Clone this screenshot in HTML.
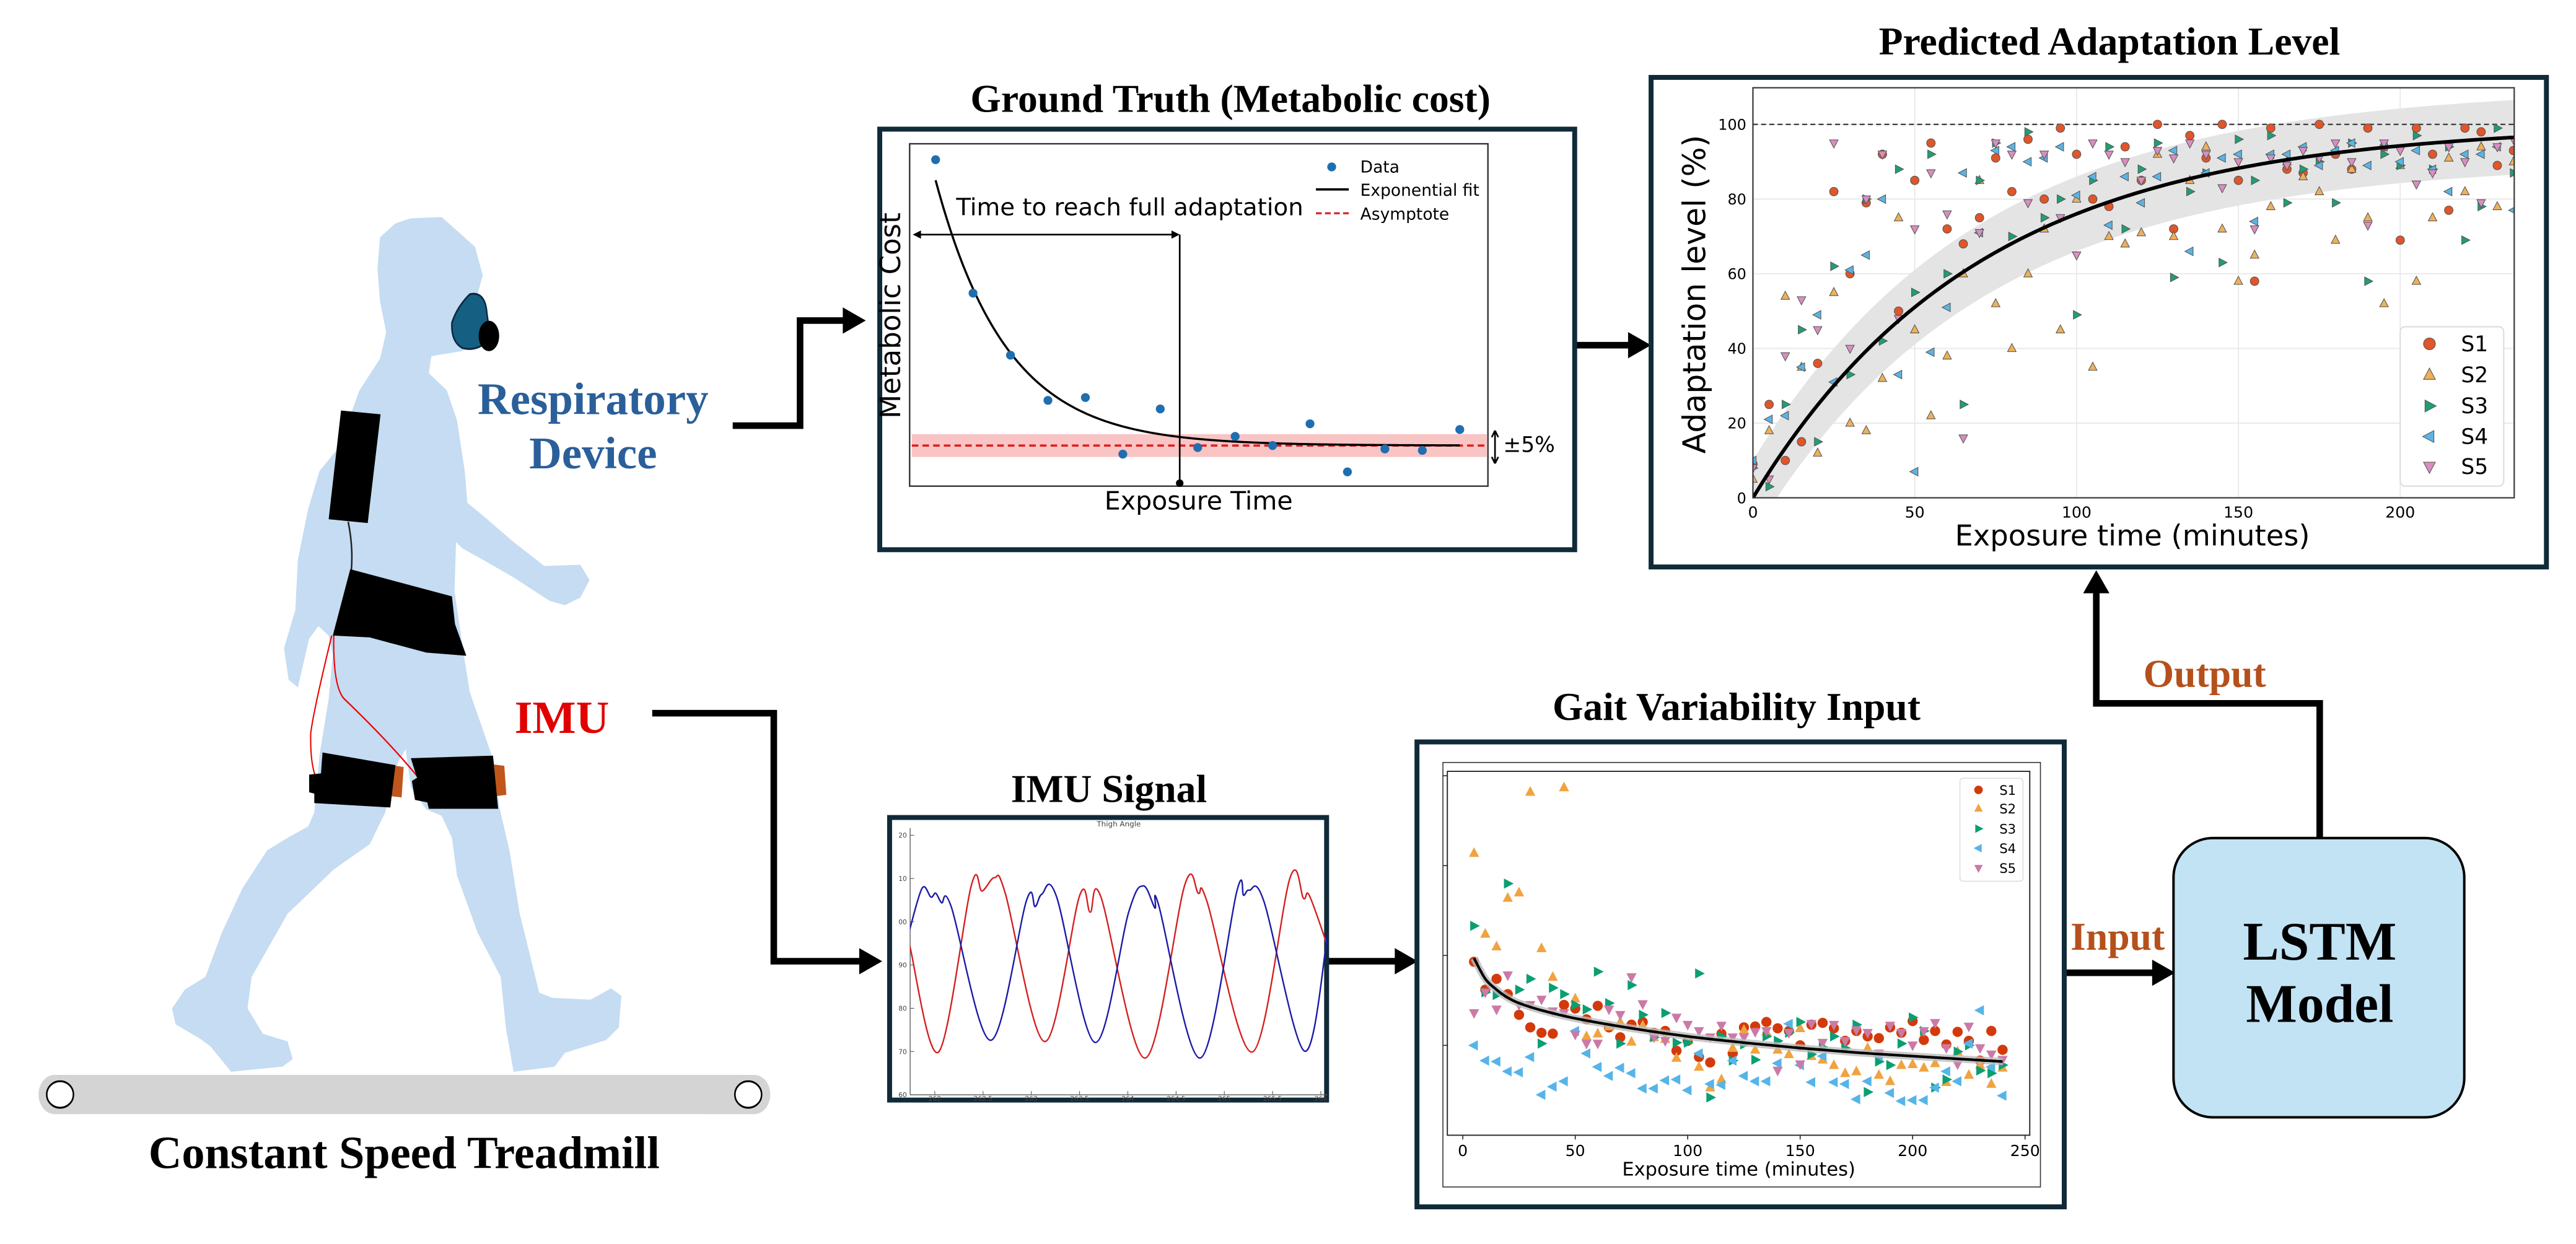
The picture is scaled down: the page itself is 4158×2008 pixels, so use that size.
<!DOCTYPE html>
<html><head><meta charset="utf-8"><style>
html,body{margin:0;padding:0;background:#fff;}
svg{display:block;}
.ser{font-family:"Liberation Serif",serif;font-weight:bold;}
.sans{font-family:"DejaVu Sans","Liberation Sans",sans-serif;}
</style></head><body>
<svg id="root" xmlns="http://www.w3.org/2000/svg" width="4158" height="2008" viewBox="0 0 1568 757">
<rect x="0" y="0" width="1568" height="757" fill="#fff"/>
<defs>
<clipPath id="clipPred"><rect x="1067" y="53.3" width="463.4" height="249.6"/></clipPath>
<clipPath id="clipGait"><rect x="881" y="469.4" width="354.5" height="221.5"/></clipPath>
<clipPath id="clipImu"><rect x="554" y="504" width="254" height="162"/></clipPath>
</defs>

<!-- person -->
<g transform="translate(0,94.3) scale(0.3126,0.3848)">
<polygon fill="#c5dcf2" points="800,100 860,98 925,145 940,190 930,220 950,260 900,310 840,318 835,345 870,372 890,420 905,500 910,550 940,570 1000,612 1060,650 1130,648 1148,672 1130,700 1100,712 1070,705 1000,668 940,640 900,622 888,612 885,690 905,800 915,850 945,920 962,960 972,1030 992,1100 1012,1200 1050,1325 1075,1333 1150,1336 1190,1318 1210,1330 1205,1380 1180,1400 1100,1420 1080,1442 1000,1450 985,1380 975,1300 930,1230 890,1140 880,1080 860,1045 830,1035 800,1000 790,940 775,960 750,1040 720,1090 650,1130 560,1200 490,1300 482,1350 512,1390 560,1402 570,1430 550,1442 450,1450 410,1410 390,1398 342,1375 335,1350 360,1320 400,1300 432,1230 472,1160 520,1100 560,1080 600,1062 612,1040 622,950 640,860 648,790 640,760 620,745 602,765 580,842 562,830 553,780 575,720 580,640 600,560 622,500 660,462 700,372 740,322 752,280 740,232 735,180 740,130 770,108"/>
<polygon fill="#000" points="664,404 741,410 716,582 640,576"/>
<path d="M678,580 Q688,620 684,658" stroke="#222" stroke-width="3" fill="none"/>
<polygon fill="#000" points="682,655 880,698 886,742 908,792 830,787 720,763 648,760"/>
<path d="M646,760 Q610,880 605,915 Q604,960 614,982" stroke="#e00" stroke-width="2.5" fill="none"/>
<path d="M650,760 Q648,840 670,860 Q760,930 818,988" stroke="#e00" stroke-width="2.5" fill="none"/>
<polygon fill="#c0561c" points="762,965 786,968 782,1016 760,1014"/>
<polygon fill="#c0561c" points="962,964 982,966 986,1012 966,1014"/>
<polygon fill="#000" points="628,945 770,965 760,1032 612,1025 612,1010 602,1008 602,980 625,978"/>
<polygon fill="#000" points="800,954 960,950 970,1034 835,1034 832,1024 808,1020 802,990 812,985"/>
<path d="M915,220 Q945,215 948,250 L955,290 Q930,312 900,305 Q878,295 880,265 Q890,240 915,220 Z" fill="#155f82" stroke="#0a2a40" stroke-width="3"/>
<ellipse cx="952" cy="286" rx="20" ry="24" fill="#000"/>
<rect x="75" y="1455" width="1425" height="62" rx="31" fill="#d4d4d4"/>
<ellipse cx="117" cy="1486" rx="26" ry="21" fill="#fff" stroke="#000" stroke-width="3"/>
<ellipse cx="1457" cy="1486" rx="26" ry="21" fill="#fff" stroke="#000" stroke-width="3"/>
</g>
<text class="ser" x="246" y="711" font-size="28" text-anchor="middle" fill="#000">Constant Speed Treadmill</text>
<text class="ser" x="361" y="252" font-size="27.5" text-anchor="middle" fill="#2a5f9a">Respiratory</text>
<text class="ser" x="361" y="285" font-size="27.5" text-anchor="middle" fill="#2a5f9a">Device</text>
<text class="ser" x="342" y="446" font-size="28" text-anchor="middle" fill="#e00000">IMU</text>

<!-- connectors -->
<g stroke="#000" stroke-width="4" fill="none">
<polyline points="446,259 487,259 487,195 516,195"/>
<polyline points="397,434 471,434 471,585 526,585"/>
<line x1="958" y1="210" x2="994" y2="210"/>
<line x1="808" y1="585" x2="852" y2="585"/>
<line x1="1257" y1="592" x2="1313" y2="592"/>
<polyline points="1412,510 1412,428 1276,428 1276,358"/>
</g>
<g fill="#000">
<polygon points="527,195 513,187 513,203"/>
<polygon points="537,585 523,577 523,593"/>
<polygon points="1005,210 991,202 991,218"/>
<polygon points="863,585 849,577 849,593"/>
<polygon points="1324,592 1310,584 1310,600"/>
<polygon points="1276,347 1268,361 1284,361"/>
</g>
<text class="ser" x="1289" y="578" font-size="24" text-anchor="middle" fill="#b5501c">Input</text>
<text class="ser" x="1342" y="418" font-size="24" text-anchor="middle" fill="#b5501c">Output</text>

<!-- LSTM -->
<rect x="1323" y="510" width="177" height="170" rx="24" fill="#c2e3f4" stroke="#000" stroke-width="1.5"/>
<text class="ser" x="1412" y="584" font-size="33" text-anchor="middle">LSTM</text>
<text class="ser" x="1412" y="622" font-size="33" text-anchor="middle">Model</text>

<!-- panel boxes and titles -->
<rect x="535.5" y="78.5" width="423" height="256" fill="#fff" stroke="#102a38" stroke-width="3"/>
<text class="ser" x="749" y="68" font-size="24" text-anchor="middle">Ground Truth (Metabolic cost)</text>
<rect x="1005" y="47" width="545" height="298" fill="#fff" stroke="#102a38" stroke-width="3"/>
<text class="ser" x="1284" y="33" font-size="24" text-anchor="middle">Predicted Adaptation Level</text>
<rect x="541.5" y="497.5" width="266" height="172" fill="#fff" stroke="#102a38" stroke-width="3"/>
<text class="ser" x="675" y="488" font-size="24" text-anchor="middle">IMU Signal</text>
<rect x="862.5" y="451.5" width="394" height="283" fill="#fff" stroke="#102a38" stroke-width="3"/>
<text class="ser" x="1057" y="438" font-size="24" text-anchor="middle">Gait Variability Input</text>

<g id="gt"></g>
<g id="pred"></g>
<g id="imu"></g>
<g id="gait"></g>
</svg>
<script>
// ---------- Ground truth data ----------
const gtIndex = [0,1,2,3,4,5,6,7,8,9,10,11,12,13,14];
const gtValues = [11.42,6.75,4.58,3.0,3.1,1.12,2.7,1.35,1.74,1.42,2.18,0.5,1.3,1.25,1.98];
const gtAsymptote = 1.42;
const gtBandHalf = 0.4;
const gtFitAmp = 9.28;
const gtFitRate = 1.9;
const gtAdaptIndex = 6.52;
const gtArrowLevel = 8.8;

// ---------- Predicted adaptation data ----------
const predTicksX = [0,50,100,150,200];
const predTicksY = [0,20,40,60,80,100];
const predTimes = [0,5,10,15,20,25,30,35,40,45,50,55,60,65,70,75,80,85,90,95,100,105,110,115,120,125,130,135,140,145,150,155,160,165,170,175,180,185,190,195,200,205,210,215,220,225,230,235];
const predS1 = [9,25,10,15,36,82,60,79,92,50,85,95,72,68,75,91,82,96,80,99,92,80,78,94,85,100,72,97,91,100,85,58,99,88,87,100,92,88,99,94,69,99,92,77,99,98,89,93];
const predS2 = [5,18,54,35,12,55,20,18,32,75,45,22,38,60,85,52,40,60,72,45,80,35,70,68,71,92,70,85,94,72,58,65,78,90,86,82,69,88,75,52,89,58,75,91,82,94,78,90];
const predS3 = [8,3,25,45,15,62,33,80,42,88,55,92,60,25,85,95,70,98,75,80,49,85,94,72,88,95,59,82,87,63,96,85,97,79,88,90,79,95,58,92,89,97,88,94,69,78,99,87];
const predS4 = [10,21,22,35,49,31,61,65,80,33,7,39,51,87,71,93,94,90,91,94,81,86,73,86,79,86,93,66,87,91,92,74,92,92,94,89,93,95,89,94,90,93,88,82,92,92,94,77];
const predS5 = [8,5,38,53,45,95,40,80,92,48,72,87,76,16,71,95,92,79,92,75,65,95,92,90,85,93,91,95,92,83,90,72,91,89,93,91,95,90,73,95,93,84,87,94,90,79,94,96];
const predSeriesNames = ["S1","S2","S3","S4","S5"];
const predFitTau = 70;
const predBandHalf = 10;

// ---------- IMU signal data ----------
const imuTicksX = [262,262.5,263,263.5,264,264.5,265,265.5,266];
const imuTickXLabels = ["262","262.5","263","263.5","264","264.5","265","265.5","266"];
const imuTicksY = [120,110,100,90,80,70,60];
const imuTickYLabels = ["20","10","00","90","80","70","60"];
const imuRedT = [261.74,262.04,262.38,262.49,262.62,262.73,263.14,263.50,263.61,263.72,264.18,264.59,264.73,264.82,265.29,265.68,265.82,265.88,266.06];
const imuRedV = [94.5,69.9,108.5,107.1,110.2,106.6,72.3,106,102.2,105.8,68.5,108.5,106.6,104.7,69.9,110.1,105.4,106.1,95];
const imuBlueT = [261.74,261.87,261.96,262.01,262.07,262.17,262.58,262.95,263.04,263.11,263.26,263.66,264.01,264.16,264.28,264.32,264.75,265.13,265.20,265.26,265.41,265.83,266.07];
const imuBlueV = [98.2,107.8,105.7,106.6,104.4,103.5,72.6,104.9,103.5,106.4,105.9,72.1,102.3,108.3,103.2,103.8,68.5,107.1,106.1,107.3,104.7,70.1,97];

// ---------- Gait variability data ----------
const gaitTicksX = [0,50,100,150,200,250];
const gaitTicksY = [1,2,3,4];
const gaitTimes = [5,10,15,20,25,30,35,40,45,50,55,60,65,70,75,80,85,90,95,100,105,110,115,120,125,130,135,140,145,150,155,160,165,170,175,180,185,190,195,200,205,210,215,220,225,230,235,240];
const gaitS1 = [1.93,1.62,1.74,1.57,1.34,1.2,1.14,1.13,1.45,1.41,1.29,1.44,1.2,1.09,1.23,1.26,1.14,1.16,0.94,1.05,0.87,0.81,1.13,0.91,1.2,1.21,1.26,1.19,1.16,1.0,1.23,1.25,1.19,1.05,1.16,1.1,1.08,1.2,1.14,1.27,1.06,1.16,1.01,1.15,1.05,0.83,1.16,0.95];
const gaitS2 = [3.14,2.24,2.1,2.64,2.7,3.82,2.08,1.76,3.87,1.52,1.1,1.13,1.21,1.26,1.04,1.22,1.09,1.07,0.86,1.05,0.76,0.53,0.62,0.97,1.17,0.95,1.15,0.95,0.9,1.19,0.88,0.84,0.78,0.69,0.71,0.97,0.67,0.6,0.78,0.79,0.75,0.8,0.59,0.93,0.67,0.78,0.57,0.75];
const gaitS3 = [2.33,1.59,1.56,2.8,1.62,1.74,1.02,1.64,1.57,1.45,1.4,1.82,1.47,1.02,1.67,1.34,1.09,1.36,1.03,1.03,1.8,0.42,1.1,0.83,1.01,0.84,1.1,1.05,1.14,1.26,0.9,0.98,1.1,0.97,1.23,0.48,0.82,0.78,1.02,1.31,1.16,0.53,0.62,0.93,1.0,0.72,0.69,0.78];
const gaitS4 = [1.0,0.83,0.82,0.71,0.7,0.87,0.45,0.54,0.6,1.16,0.91,0.76,0.66,0.75,0.69,0.52,0.52,0.61,0.62,0.5,0.91,0.57,0.56,0.83,0.66,0.6,0.6,0.8,1.24,0.78,0.59,0.88,0.59,0.57,0.4,0.6,0.88,0.47,0.38,0.39,0.39,0.53,0.71,0.6,1.02,1.39,0.76,0.44];
const gaitS5 = [1.36,1.59,1.4,1.78,1.45,1.45,1.51,1.38,1.36,1.12,1.02,1.02,1.4,1.34,1.76,1.46,1.09,1.05,1.31,1.23,1.16,1.09,1.22,1.09,1.09,1.15,1.16,0.72,1.14,0.79,1.24,1.03,1.23,1.05,1.17,1.14,0.91,1.22,1.14,1.0,1.16,1.25,0.97,0.79,1.21,0.97,0.9,0.84];
const gaitFitT = [5,10,15,20,25,35,50,75,100,125,150,175,200,220,240];
const gaitFitV = [1.97,1.74,1.62,1.53,1.47,1.39,1.3,1.19,1.1,1.03,0.97,0.92,0.88,0.85,0.82];
const gaitSeriesNames = ["S1","S2","S3","S4","S5"];

const NS = "http://www.w3.org/2000/svg";
function mk(tag, attrs, parent){
  const e = document.createElementNS(NS, tag);
  for (const k in attrs) e.setAttribute(k, attrs[k]);
  parent.appendChild(e);
  return e;
}
function smoothPath(pts){
  let d = "M"+pts[0][0].toFixed(2)+","+pts[0][1].toFixed(2);
  for (let i=0;i<pts.length-1;i++){
    const p0=pts[Math.max(0,i-1)],p1=pts[i],p2=pts[i+1],p3=pts[Math.min(pts.length-1,i+2)];
    const c1x=p1[0]+(p2[0]-p0[0])/6,c1y=p1[1]+(p2[1]-p0[1])/6;
    const c2x=p2[0]-(p3[0]-p1[0])/6,c2y=p2[1]-(p3[1]-p1[1])/6;
    d+=" C"+c1x.toFixed(2)+","+c1y.toFixed(2)+" "+c2x.toFixed(2)+","+c2y.toFixed(2)+" "+p2[0].toFixed(2)+","+p2[1].toFixed(2);
  }
  return d;
}
function marker(kind, cx, cy, r, fill, stroke, sw, parent){
  let e;
  if (kind===0){ e = mk("circle",{cx:cx,cy:cy,r:r,fill:fill,stroke:stroke,"stroke-width":sw},parent); }
  else {
    let p;
    if (kind===1) p=[[cx,cy-r*1.15],[cx-r,cy+r*0.75],[cx+r,cy+r*0.75]];
    else if (kind===2) p=[[cx+r*1.15,cy],[cx-r*0.75,cy-r],[cx-r*0.75,cy+r]];
    else if (kind===3) p=[[cx-r*1.15,cy],[cx+r*0.75,cy-r],[cx+r*0.75,cy+r]];
    else p=[[cx,cy+r*1.15],[cx-r,cy-r*0.75],[cx+r,cy-r*0.75]];
    e = mk("polygon",{points:p.map(q=>q[0].toFixed(2)+","+q[1].toFixed(2)).join(" "),fill:fill,stroke:stroke,"stroke-width":sw},parent);
  }
  return e;
}

// ================= Ground truth chart =================
(function(){
  const g = document.getElementById("gt");
  const X = i => 569.5 + i*22.79;
  const Y = v => 295.8 - v*17.4;
  let e;
  e = mk("rect",{x:553.7,y:87.4,width:352,height:208.4,fill:"#fff",stroke:"#333","stroke-width":0.9},g);
  
  
  e = mk("rect",{x:555,y:Y(gtAsymptote+gtBandHalf),width:350,height:Y(gtAsymptote-gtBandHalf)-Y(gtAsymptote+gtBandHalf),fill:"#f9c4c4"},g);
  
  
  e = mk("line",{x1:555,x2:905,y1:Y(gtAsymptote),y2:Y(gtAsymptote),stroke:"#e02020","stroke-width":1.4,"stroke-dasharray":"4,2.5"},g);
  
  
  const fp=[];
  for (let k=0;k<=140;k++){ const i=k/10; fp.push([X(i),Y(gtAsymptote+gtFitAmp*Math.exp(-i/gtFitRate))]); }
  e = mk("path",{d:smoothPath(fp),fill:"none",stroke:"#000","stroke-width":1.3},g);
  
  
  gtValues.forEach((v,i)=>{
    const c = mk("circle",{cx:X(gtIndex[i]),cy:Y(v),r:2.7,fill:"#1f6fb0"},g);
    
    
  });
  e = mk("line",{x1:X(gtAdaptIndex),x2:X(gtAdaptIndex),y1:Y(gtArrowLevel),y2:294,stroke:"#000","stroke-width":1},g);
  
  
  e = mk("circle",{cx:X(gtAdaptIndex),cy:294,r:2.3,fill:"#000"},g);
  
  
  const ax1 = X(-0.61), ax2 = X(gtAdaptIndex), ay = Y(gtArrowLevel);
  e = mk("line",{x1:ax1+2,x2:ax2-2,y1:ay,y2:ay,stroke:"#000","stroke-width":1},g);
  
  
  e = mk("path",{d:`M${ax1},${ay} l5,-2.5 l0,5 z M${ax2},${ay} l-5,-2.5 l0,5 z`,fill:"#000"},g);
  
  
  e = mk("text",{x:582,y:131,"font-size":14.6,class:"sans"},g);
  e.textContent="Time to reach full adaptation";
  
  
  e = mk("circle",{cx:810.6,cy:101.5,r:2.7,fill:"#1f6fb0"},g);
  
  
  e = mk("text",{x:828,y:105,"font-size":10,class:"sans"},g); e.textContent="Data";
  
  
  e = mk("line",{x1:801,x2:821,y1:115.2,y2:115.2,stroke:"#000","stroke-width":1.4},g);
  
  
  e = mk("text",{x:828,y:119,"font-size":10,class:"sans"},g); e.textContent="Exponential fit";
  
  
  e = mk("line",{x1:801,x2:821,y1:129.7,y2:129.7,stroke:"#e02020","stroke-width":1.2,"stroke-dasharray":"3.5,2"},g);
  
  
  e = mk("text",{x:828,y:133.5,"font-size":10,class:"sans"},g); e.textContent="Asymptote";
  
  
  e = mk("text",{x:0,y:0,"font-size":17,class:"sans","text-anchor":"middle",transform:"translate(548,192) rotate(-90)"},g);
  e.textContent="Metabolic Cost";
  
  
  e = mk("text",{x:729.6,y:310,"font-size":15.5,class:"sans","text-anchor":"middle"},g);
  e.textContent="Exposure Time";
  
  
  e = mk("path",{d:"M910,262 L910,282 M910,262 l-2,4 M910,262 l2,4 M910,282 l-2,-4 M910,282 l2,-4",stroke:"#000","stroke-width":1,fill:"none"},g);
  
  
  e = mk("text",{x:915,y:275,"font-size":13,class:"sans"},g);
  e.textContent="±5%";
  
  
})();

// ================= Predicted adaptation chart =================
(function(){
  const g = document.getElementById("pred");
  const X = t => 1067 + t*1.97;
  const Y = v => 302.9 - v*2.273;
  const colors = ["#e0552a","#eeb05a","#1f9e74","#5ab4e5","#d88ec0"];
  const series = [predS1,predS2,predS3,predS4,predS5];
  let e;
  e = mk("rect",{x:1067,y:53.3,width:463.4,height:249.6,fill:"#fff"},g);
  
  
  predTicksX.forEach(t=>{
    const l = mk("line",{x1:X(t),x2:X(t),y1:53.3,y2:302.9,stroke:"#e8e8e8","stroke-width":0.7},g);
    
    
    const tx = mk("text",{x:X(t),y:315,"font-size":9.5,class:"sans","text-anchor":"middle"},g);
    tx.textContent=String(t);
    
    
  });
  predTicksY.forEach(v=>{
    const l = mk("line",{x1:1067,x2:1530.4,y1:Y(v),y2:Y(v),stroke:"#e8e8e8","stroke-width":0.7},g);
    
    
    const tx = mk("text",{x:1063,y:Y(v)+3.3,"font-size":9,class:"sans","text-anchor":"end"},g);
    tx.textContent=String(v);
    
    
  });
  const gc = mk("g",{"clip-path":"url(#clipPred)"},g);
  
  
  const up=[],lo=[],mid=[];
  for (let t=0;t<=236;t+=2){
    const f=100*(1-Math.exp(-t/predFitTau));
    mid.push([X(t),Y(f)]); up.push([X(t),Y(f+predBandHalf)]); lo.push([X(t),Y(f-predBandHalf)]);
  }
  e = mk("path",{d:"M"+up.map(p=>p[0].toFixed(2)+","+p[1].toFixed(2)).join(" L")+" L"+lo.reverse().map(p=>p[0].toFixed(2)+","+p[1].toFixed(2)).join(" L")+" Z",fill:"#e4e4e4"},gc);
  
  
  e = mk("line",{x1:1067,x2:1530.4,y1:Y(100),y2:Y(100),stroke:"#444","stroke-width":0.9,"stroke-dasharray":"3,2"},gc);
  
  
  series.forEach((s,k)=>{
    s.forEach((v,i)=>{
      const m = marker(k, X(predTimes[i]), Y(v), 2.6, colors[k], "#555", 0.4, gc);
      
      
    });
  });
  e = mk("path",{d:smoothPath(mid),fill:"none",stroke:"#000","stroke-width":2.2},gc);
  
  
  e = mk("rect",{x:1067,y:53.3,width:463.4,height:249.6,fill:"none",stroke:"#333","stroke-width":0.8},g);
  
  
  e = mk("rect",{x:1461,y:198.8,width:63,height:97,rx:3,fill:"#fff",stroke:"#ddd","stroke-width":0.8},g);
  
  
  const ly=[209.2,228.1,247,265.6,283.9];
  predSeriesNames.forEach((n,k)=>{
    const m = marker(k,1478.8,ly[k],3.6,colors[k],"#555",0.4,g);
    
    
    const tx = mk("text",{x:1498,y:ly[k]+4.5,"font-size":13,class:"sans"},g);
    tx.textContent=n;
    
    
  });
  e = mk("text",{x:0,y:0,"font-size":19,class:"sans","text-anchor":"middle",transform:"translate(1038,179) rotate(-90)"},g);
  e.textContent="Adaptation level (%)";
  
  
  e = mk("text",{x:1298,y:332,"font-size":17.5,class:"sans","text-anchor":"middle"},g);
  e.textContent="Exposure time (minutes)";
  
  
})();

// ================= IMU signal chart =================
(function(){
  const g = document.getElementById("imu");
  const X = t => 569 + (t-262)*58.75;
  const Y = v => 508.3 + (120-v)*2.633;
  let e;
  e = mk("line",{x1:554,x2:554,y1:504,y2:666.3,stroke:"#555","stroke-width":0.5},g);
  
  
  e = mk("line",{x1:554,x2:808,y1:666.3,y2:666.3,stroke:"#555","stroke-width":0.5},g);
  
  
  imuTicksY.forEach((v,i)=>{
    const l = mk("line",{x1:554,x2:556.5,y1:Y(v),y2:Y(v),stroke:"#555","stroke-width":0.4},g);
    
    
    const tx = mk("text",{x:552,y:Y(v)+1.5,"font-size":4,class:"sans","text-anchor":"end",fill:"#444"},g);
    tx.textContent=imuTickYLabels[i];
    
    
  });
  imuTicksX.forEach((t,i)=>{
    const l = mk("line",{x1:X(t),x2:X(t),y1:666.3,y2:664,stroke:"#555","stroke-width":0.4},g);
    
    
    const tx = mk("text",{x:X(t),y:670,"font-size":4,class:"sans","text-anchor":"middle",fill:"#444"},g);
    tx.textContent=imuTickXLabels[i];
    
    
  });
  e = mk("text",{x:681,y:503,"font-size":4.5,class:"sans","text-anchor":"middle",fill:"#444"},g);
  e.textContent="Thigh Angle";
  
  
  const gc = mk("g",{"clip-path":"url(#clipImu)"},g);
  
  
  e = mk("path",{d:smoothPath(imuRedT.map((t,i)=>[X(t),Y(imuRedV[i])])),fill:"none",stroke:"#d42020","stroke-width":0.9},gc);
  
  
  e = mk("path",{d:smoothPath(imuBlueT.map((t,i)=>[X(t),Y(imuBlueV[i])])),fill:"none",stroke:"#1a1aa8","stroke-width":0.9},gc);
  
  
})();

// ================= Gait variability chart =================
(function(){
  const g = document.getElementById("gait");
  const X = t => 890.4 + t*1.369;
  const Y = v => 690.9 - v*54.7;
  const colors = ["#d33a0b","#f0a340","#0b9e73","#56b4e9","#cc79a7"];
  const series = [gaitS1,gaitS2,gaitS3,gaitS4,gaitS5];
  let e;
  e = mk("rect",{x:878.3,y:464,width:363.7,height:258.4,fill:"#fff",stroke:"#333","stroke-width":0.6},g);
  
  
  e = mk("rect",{x:881,y:469.4,width:354.5,height:221.5,fill:"#fff",stroke:"#222","stroke-width":0.7},g);
  
  
  gaitTicksX.forEach(t=>{
    const l = mk("line",{x1:X(t),x2:X(t),y1:690.9,y2:693.5,stroke:"#222","stroke-width":0.6},g);
    
    
    const tx = mk("text",{x:X(t),y:703.5,"font-size":9.5,class:"sans","text-anchor":"middle"},g);
    tx.textContent=String(t);
    
    
  });
  gaitTicksY.forEach(v=>{
    const l = mk("line",{x1:878.5,x2:881,y1:Y(v),y2:Y(v),stroke:"#222","stroke-width":0.6},g);
    
    
  });
  const gc = mk("g",{"clip-path":"url(#clipGait)"},g);
  
  
  series.forEach((s,k)=>{
    s.forEach((v,i)=>{
      const m = marker(k, X(gaitTimes[i]), Y(v), 3.1, colors[k], "none", 0, gc);
      
      
    });
  });
  const fpts = gaitFitT.map((t,i)=>[X(t),Y(gaitFitV[i])]);
  e = mk("path",{d:smoothPath(fpts),fill:"none",stroke:"#bbb","stroke-width":4.5,"stroke-opacity":0.8},gc);
  
  
  e = mk("path",{d:smoothPath(fpts),fill:"none",stroke:"#000","stroke-width":1.6},gc);
  
  
  e = mk("rect",{x:1193,y:473.6,width:38.4,height:62.7,rx:2,fill:"#fff",stroke:"#ddd","stroke-width":0.6},g);
  
  
  const ly=[480.7,492,504.3,516.2,528.3];
  gaitSeriesNames.forEach((n,k)=>{
    const m = marker(k,1204.3,ly[k],2.6,colors[k],"none",0,g);
    
    
    const tx = mk("text",{x:1217,y:ly[k]+3,"font-size":8,class:"sans"},g);
    tx.textContent=n;
    
    
  });
  e = mk("text",{x:1058.4,y:715.5,"font-size":11.5,class:"sans","text-anchor":"middle"},g);
  e.textContent="Exposure time (minutes)";
  
  
})();
</script>
</body></html>
